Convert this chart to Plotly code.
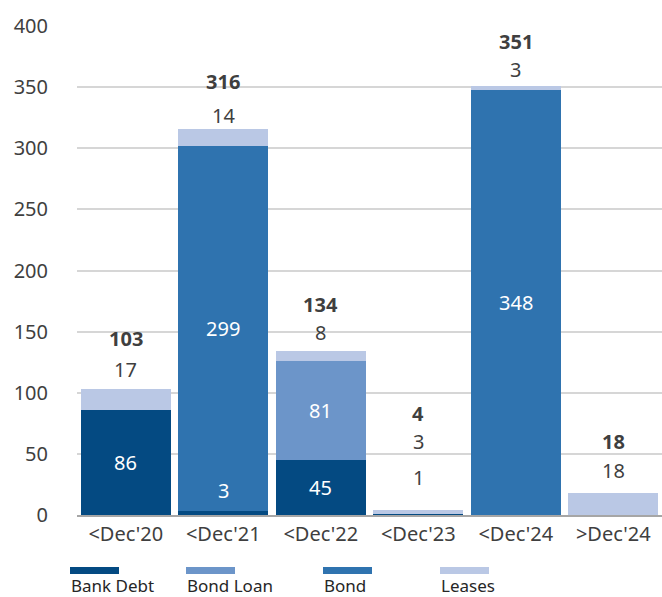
import plotly.graph_objects as go

categories = ["<Dec'20", "<Dec'21", "<Dec'22", "<Dec'23", "<Dec'24", ">Dec'24"]
bank_debt = [86, 3, 45, 1, 0, 0]
bond_loan = [0, 0, 81, 0, 0, 0]
bond = [0, 299, 0, 0, 348, 0]
leases = [17, 14, 8, 3, 3, 18]
totals = [103, 316, 134, 4, 351, 18]
y_ticks = [0, 50, 100, 150, 200, 250, 300, 350, 400]

series = [
    ("Bank Debt", bank_debt, "#044a82"),
    ("Bond Loan", bond_loan, "#6c95c9"),
    ("Bond", bond, "#2f73af"),
    ("Leases", leases, "#bac8e5"),
]

FONT = "Noto Sans"
TXT = "#3f3f3f"
FS = 20

fig = go.Figure()
for name, vals, col in series:
    fig.add_trace(go.Bar(x=categories, y=vals, name=name, marker_color=col,
                         marker_line_width=0, showlegend=False, hoverinfo="skip"))

# label offsets above bar top (px): style settings per category
above_offsets = {
    0: ([20], 51),
    1: ([13], 47),
    2: ([19], 47),
    3: ([33, 69], 97),
    4: ([16], 44),
    5: ([22], 51),
}

ann = []
for i, cat in enumerate(categories):
    cum = 0
    above_labels = []
    seg_vals = [s[1][i] for s in series]
    for k, (name, vals, col) in enumerate(series):
        v = vals[i]
        if v <= 0:
            continue
        if name == "Leases":
            above_labels.append(v)
        elif v >= 20:
            ann.append(dict(x=cat, y=cum + v / 2, text=str(v), showarrow=False,
                            font=dict(family=FONT, size=FS, color="white")))
        else:
            larger_above = any(seg_vals[j] >= 20 for j in range(k + 1, len(series)))
            if larger_above:
                ann.append(dict(x=cat, y=cum + v, yshift=21, text=str(v), showarrow=False,
                                font=dict(family=FONT, size=FS, color="white")))
            else:
                above_labels.append(v)
        cum += v
    offs, toff = above_offsets[i]
    for v, off in zip(above_labels, offs):
        ann.append(dict(x=cat, y=cum, yshift=off, text=str(v), showarrow=False,
                        font=dict(family=FONT, size=FS, color=TXT)))
    ann.append(dict(x=cat, y=cum, yshift=toff, text="<b>%d</b>" % totals[i], showarrow=False,
                    font=dict(family=FONT, size=FS, color=TXT)))

# custom legend (swatch above text)
PL, PW, PB, PH = 77, 585, 515, 489
def px(x):
    return (x - PL) / PW
def py(y):
    return (PB - y) / PH

leg_x = [70, 186, 323, 440]
shapes = []
for (name, vals, col), lx in zip(series, leg_x):
    shapes.append(dict(type="rect", xref="paper", yref="paper",
                       x0=px(lx), x1=px(lx + 49), y0=py(574), y1=py(567),
                       fillcolor=col, line_width=0))
    ann.append(dict(xref="paper", yref="paper", x=px(lx - 1), y=py(585), xanchor="left",
                    yanchor="middle", text=name, showarrow=False,
                    font=dict(family=FONT, size=17, color="#262626")))

fig.update_layout(
    barmode="stack",
    bargap=0.08,
    width=662, height=597,
    margin=dict(l=PL, r=0, t=26, b=82),
    plot_bgcolor="white", paper_bgcolor="white",
    font=dict(family=FONT, size=FS, color=TXT),
    annotations=ann,
    shapes=shapes,
    xaxis=dict(showline=True, linecolor="#a6a6a6", linewidth=2, ticks="",
               tickfont=dict(family=FONT, size=FS, color=TXT)),
    yaxis=dict(range=[0, 400], tickvals=y_ticks, showgrid=True, gridcolor="#d6d6d6",
               gridwidth=1.5, zeroline=False, ticklabelstandoff=28,
               tickfont=dict(family=FONT, size=FS, color=TXT)),
)

fig.write_html("out.html")
